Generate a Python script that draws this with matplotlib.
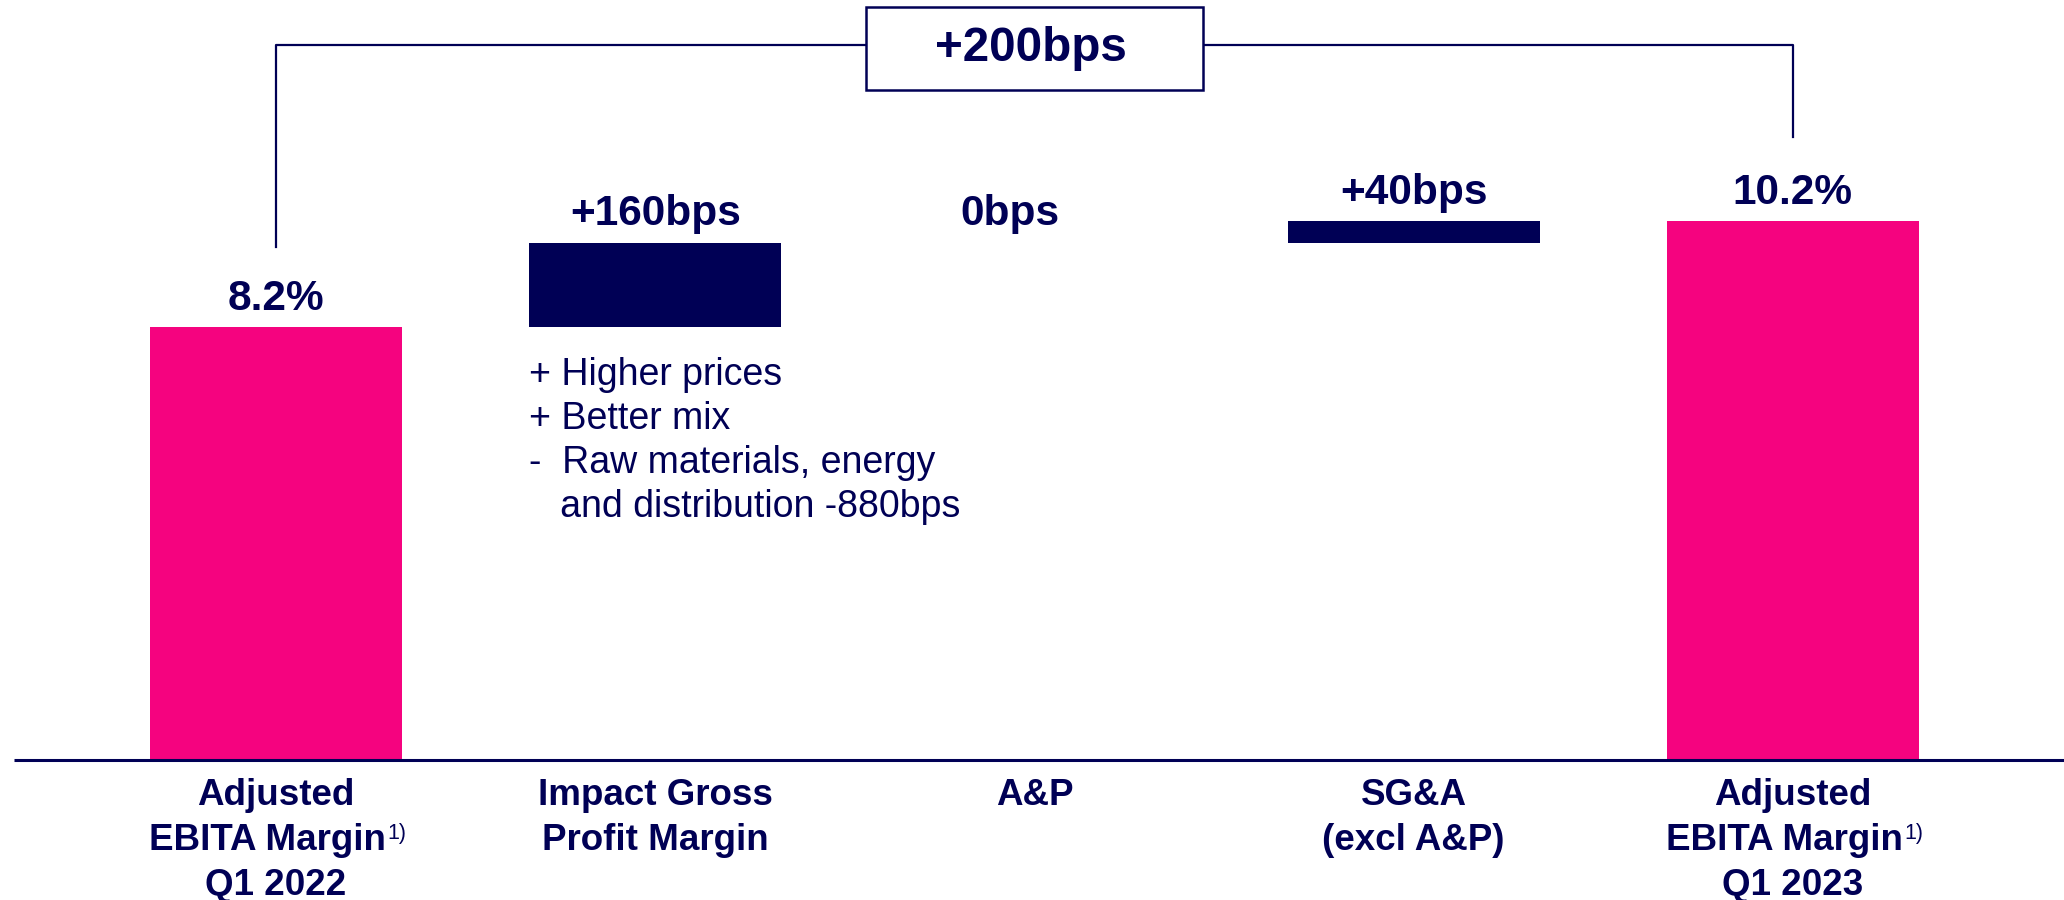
import numpy as np
import matplotlib
matplotlib.use("Agg")
import matplotlib.pyplot as plt
from matplotlib.patches import Rectangle

# ------------------------------------------------------------------
# Data
categories = [["Adjusted", "EBITA Margin", "Q1 2022"],
              ["Impact Gross", "Profit Margin"],
              ["A&P"],
              ["SG&A", "(excl A&P)"],
              ["Adjusted", "EBITA Margin", "Q1 2023"]]
footnote = "1)"
start_margin = 8.2
deltas_bps = [160, 0, 40]
end_margin = 10.2
total_change = "+200bps"
value_labels = ["8.2%", "+160bps", "0bps", "+40bps", "10.2%"]
gm_notes = ["+ Higher prices",
            "+ Better mix",
            "-  Raw materials, energy",
            "   and distribution -880bps"]

# ------------------------------------------------------------------
# Colours / fonts
pink = "#F5037F"
navy = "#000055"
plt.rcParams['font.family'] = ['Liberation Sans', 'DejaVu Sans']

# waterfall geometry
deltas = np.array(deltas_bps) / 100.0
bottoms = np.concatenate([[0], start_margin + np.cumsum(deltas) - deltas, [0]])
heights = np.concatenate([[start_margin], deltas, [end_margin]])
tops = bottoms + heights
colors = [pink, navy, navy, navy, pink]
x = np.arange(len(categories))

fig = plt.figure(figsize=(20.64, 9), dpi=100)
ax = fig.add_axes([0, 0, 1, 1])
ax.set_xlim(-0.728, 4.715)
ax.set_ylim(-2.652, 14.394)
ax.axis('off')

ax.bar(x, heights, bottom=bottoms, width=0.664, color=colors, zorder=2)

# baseline
ax.plot([-0.691, 4.715], [0, 0], color=navy, lw=2.2, zorder=3, solid_capstyle='butt')

# value labels above bars
for i in range(len(x)):
    xo = -0.065 if heights[i] == 0 else 0
    ax.annotate(value_labels[i], (x[i] + xo, tops[i]), xytext=(0, 12.5),
                textcoords='offset points', ha='center', va='baseline',
                fontsize=30.5, fontweight='bold', color=navy)

# category labels, one line at a time (px -> pt = 0.72)
for i in range(len(x)):
    for j, line in enumerate(categories[i]):
        has_note = line.startswith("EBITA")
        dx = -6 if has_note else 0
        t = ax.annotate(line, (x[i], 0), xytext=(dx, -(45 + 45 * j) * 0.72),
                        textcoords='offset points', ha='center', va='baseline',
                        fontsize=26.5, fontweight='bold', color=navy)
        if has_note:
            ax.annotate(footnote, (1, 0), xycoords=t, xytext=(1, 13.5),
                        textcoords='offset points', ha='left', va='baseline',
                        fontsize=15.5, color=navy)

# notes under gross margin bar
for j, line in enumerate(gm_notes):
    ax.annotate(line, (x[1] - 0.332, bottoms[1]), xytext=(0, -(57.5 + 44.3 * j) * 0.72),
                textcoords='offset points', ha='left', va='baseline',
                fontsize=27, color=navy)

# bracket with total change
bracket_y = end_margin + 3.34
ax.plot([x[0], x[0], x[-1], x[-1]],
        [start_margin + 1.52, bracket_y, bracket_y, end_margin + 1.59],
        color=navy, lw=1.6, zorder=1)
box = Rectangle((x[2] - 0.445, bracket_y - 0.86), 0.889, 1.59,
                facecolor='white', edgecolor=navy, lw=1.8, zorder=4)
ax.add_patch(box)
ax.text(x[2] - 0.01, bracket_y - 0.07, total_change, ha='center', va='center',
        fontsize=34.3, fontweight='bold', color=navy, zorder=5)

fig.savefig("out.png", dpi=100)
